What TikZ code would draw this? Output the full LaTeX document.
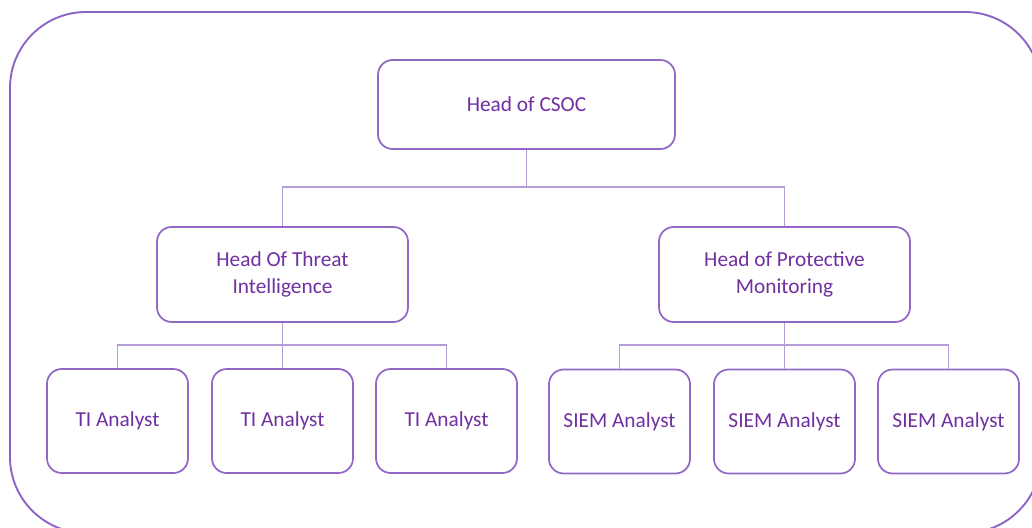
\documentclass[tikz,border=0pt]{standalone}
\usepackage{fontspec}
\setmainfont{Carlito}
\definecolor{frameline}{HTML}{8C62C4}
\definecolor{boxline}{HTML}{9268C6}
\definecolor{connline}{HTML}{B49CD8}
\definecolor{labeltext}{HTML}{7030A0}
\tikzset{
  unitbox/.style={draw=boxline, line width=1.3pt, rounded corners=11pt,
    inner sep=0pt, align=center, text=labeltext,
    font=\fontsize{16}{20}\selectfont},
  topbox/.style={unitbox, minimum width=222.75pt, minimum height=66.75pt},
  midbox/.style={unitbox, minimum width=188.25pt, minimum height=71.25pt},
  leafbox/.style={unitbox, minimum width=105.75pt, minimum height=78pt},
  conn/.style={draw=connline, line width=0.8pt},
  outerframe/.style={draw=frameline, line width=1.4pt, rounded corners=57pt}
}
\begin{document}
\begin{tikzpicture}[x=0.75pt, y=-0.75pt]
  \clip (0,0) rectangle (1032,528);
  \useasboundingbox (0,0) rectangle (1032,528);
  \fill[white] (0,0) rectangle (1032,528);

  % outer rounded frame, running past the right and bottom edges
  \draw[outerframe] (10,12) rectangle (1041,533);

  % top level
  \node[topbox] (csoc) at (526.5,104.5) {Head of CSOC};

  % second level
  \node[midbox] (hti) at (282.5,274.5) {Head Of Threat\\Intelligence};
  \node[midbox] (hpm) at (784.5,274.5) {Head of Protective\\Monitoring};

  % analysts
  \node[leafbox] (ti1) at (117.5,421) {TI Analyst};
  \node[leafbox] (ti2) at (282.5,421) {TI Analyst};
  \node[leafbox] (ti3) at (446.5,421) {TI Analyst};
  \node[leafbox] (s1) at (619.5,421.5) {SIEM Analyst};
  \node[leafbox] (s2) at (784.5,421.5) {SIEM Analyst};
  \node[leafbox] (s3) at (948.5,421.5) {SIEM Analyst};

  % junction points of the org-chart connectors
  \coordinate (j0) at (526.5,187);
  \coordinate (j1) at (282.5,345);
  \coordinate (j2) at (784.5,345);

  \draw[conn] (csoc.south) -- (j0);
  \draw[conn] (hti.north) |- (j0) -| (hpm.north);

  \draw[conn] (hti.south) -- (ti2.north);
  \draw[conn] (ti1.north) |- (j1) -| (ti3.north);

  \draw[conn] (hpm.south) -- (s2.north);
  \draw[conn] (s1.north) |- (j2) -| (s3.north);
\end{tikzpicture}
\end{document}
